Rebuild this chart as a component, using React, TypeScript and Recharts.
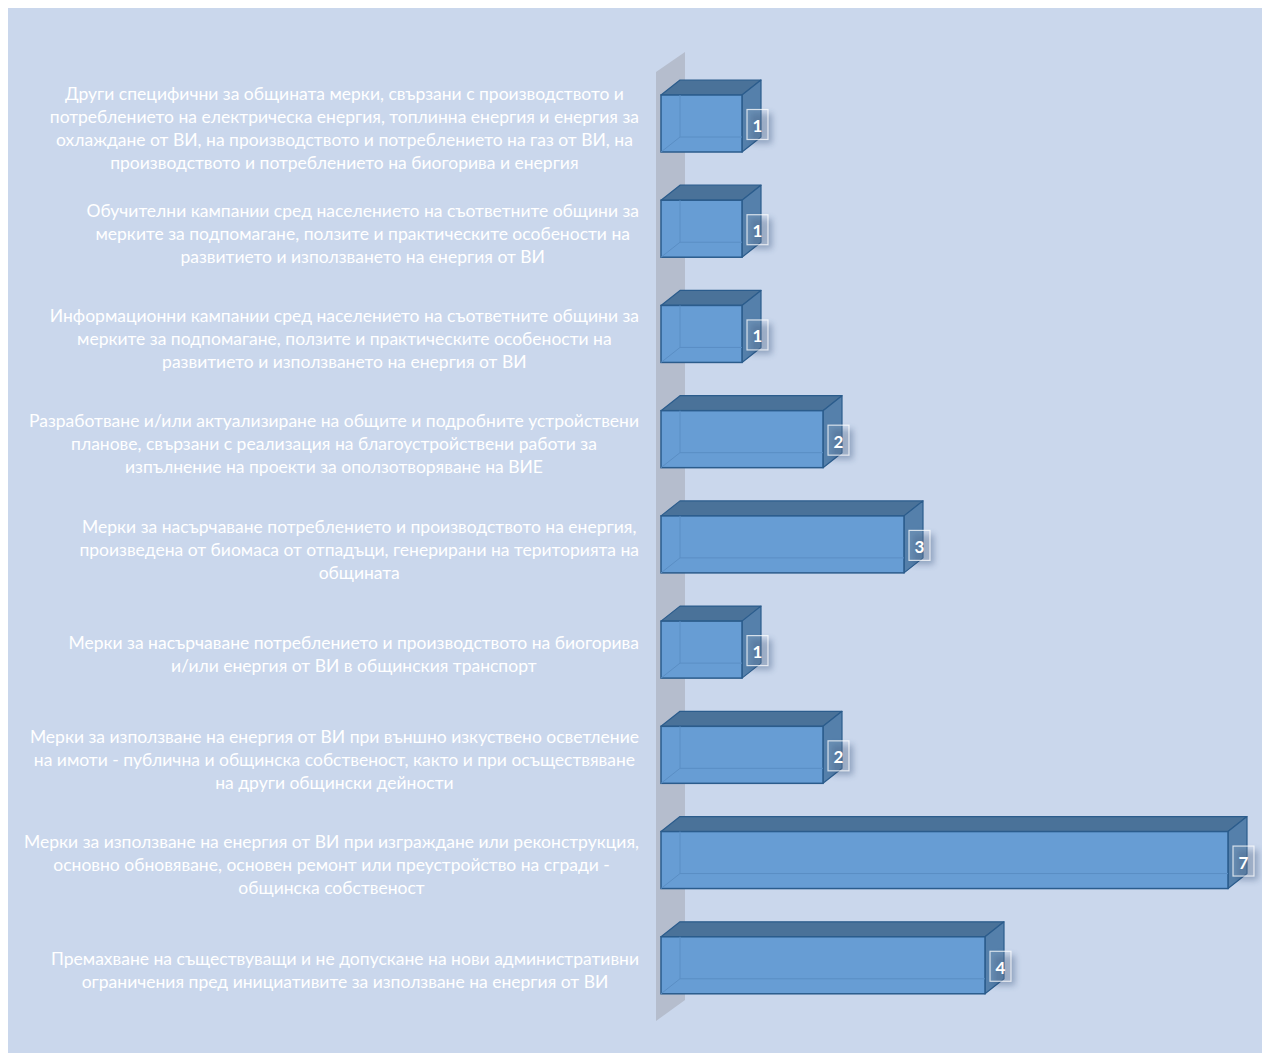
import React from 'react';
import { BarChart, Bar, XAxis, YAxis, ReferenceArea, LabelList } from 'recharts';

const categories = [
  'Други специфични мерки',
  'Обучителни кампании',
  'Информационни кампании',
  'Устройствени планове',
  'Биомаса от отпадъци',
  'Общински транспорт',
  'Външно осветление',
  'Сгради - общинска собственост',
  'Административни ограничения',
];

const categoryLines: string[][] = [
  [
    'Други специфични за общината мерки, свързани с производството и',
    'потреблението на електрическа енергия, топлинна енергия и енергия за',
    'охлаждане от ВИ, на производството и потреблението на газ от ВИ, на',
    'производството и потреблението на биогорива и енергия',
  ],
  [
    'Обучителни кампании сред населението на съответните общини за',
    'мерките за подпомагане, ползите и практическите особености на',
    'развитието и използването на енергия от ВИ',
  ],
  [
    'Информационни кампании сред населението на съответните общини за',
    'мерките за подпомагане, ползите и практическите особености на',
    'развитието и използването на енергия от ВИ',
  ],
  [
    'Разработване и/или актуализиране на общите и подробните устройствени',
    'планове, свързани с реализация на благоустройствени работи за',
    'изпълнение на проекти за оползотворяване на ВИЕ',
  ],
  [
    'Мерки за насърчаване потреблението и производството на енергия,',
    'произведена от биомаса от отпадъци, генерирани на територията на',
    'общината',
  ],
  [
    'Мерки за насърчаване потреблението и производството на биогорива',
    'и/или енергия от ВИ в общинския транспорт',
  ],
  [
    'Мерки за използване на енергия от ВИ при външно изкуствено осветление',
    'на имоти - публична и общинска собственост, както и при осъществяване',
    'на други общински дейности',
  ],
  [
    'Мерки за използване на енергия от ВИ при изграждане или реконструкция,',
    'основно обновяване, основен ремонт или преустройство на сгради -',
    'общинска собственост',
  ],
  [
    'Премахване на съществуващи и не допускане на нови административни',
    'ограничения пред инициативите за използване на енергия от ВИ',
  ],
];

const values = [1, 1, 1, 2, 3, 1, 2, 7, 4];

const data = categories.map((name, i) => ({ name, value: values[i], idx: i }));

const BG = '#cad7ec';
const FONT = 'Lato, "Open Sans", sans-serif';
const LABEL_SIZE = 17.5;
const LINE_H = 23;

let ctx: CanvasRenderingContext2D | null = null;
const measure = (s: string) => {
  if (typeof document === 'undefined') return s.length * 9;
  if (!ctx) ctx = document.createElement('canvas').getContext('2d');
  if (!ctx) return s.length * 9;
  ctx.font = `${LABEL_SIZE}px Lato`;
  return ctx.measureText(s).width;
};

const CategoryTick = (props: any) => {
  const { y, payload } = props;
  const idx = data.findIndex((d) => d.name === payload.value);
  const lines = categoryLines[idx] || [];
  const maxW = Math.max(...lines.map(measure));
  const rightEdge = 631;
  const cx = rightEdge - maxW / 2;
  const startY = y + 4 - ((lines.length - 1) * LINE_H) / 2;
  return (
    <text
      x={cx}
      y={startY}
      textAnchor="middle"
      fill="#ffffff"
      fontFamily={FONT}
      fontSize={LABEL_SIZE}
      dominantBaseline="central"
    >
      {lines.map((l, i) => (
        <tspan key={i} x={cx} y={startY + i * LINE_H} dominantBaseline="central">
          {l}
        </tspan>
      ))}
    </text>
  );
};

const DX = 19;
const DY = 15;

const Box3D = (props: any) => {
  const { x, y, width, height } = props;
  if (!width || width <= 0) return null;
  const x0 = x;
  const x1 = x + width;
  const y0 = y;
  const y1 = y + height;
  const stroke = '#2b5c8c';
  return (
    <g>
      <polygon
        points={`${x0},${y0} ${x0 + DX},${y0 - DY} ${x1 + DX},${y0 - DY} ${x1},${y0}`}
        fill="#4a7299"
        stroke={stroke}
        strokeWidth={1.2}
        strokeLinejoin="round"
      />
      <polygon
        points={`${x1},${y0} ${x1 + DX},${y0 - DY} ${x1 + DX},${y1 - DY} ${x1},${y1}`}
        fill="#5580ab"
        stroke={stroke}
        strokeWidth={1.2}
        strokeLinejoin="round"
      />
      <rect x={x0} y={y0} width={width} height={height} fill="#679dd4" stroke={stroke} strokeWidth={1.5} />
      <line x1={x0 + DX} y1={y0} x2={x0 + DX} y2={y1 - DY} stroke="#5a8ec4" strokeWidth={1} />
      <line x1={x0 + DX} y1={y1 - DY} x2={x1} y2={y1 - DY} stroke="#5a8ec4" strokeWidth={1} />
      <line x1={x0} y1={y1} x2={x0 + DX} y2={y1 - DY} stroke="#5a8ec4" strokeWidth={1} />
    </g>
  );
};

const ValueLabel = (props: any) => {
  const { x, y, width, height, value, index } = props;
  const bx = x + width + 5;
  const bw = 21;
  const bh = 30;
  const by = y + height / 2 - bh / 2 + 1;
  const fid = `lblshadow-${index}`;
  return (
    <g>
      <defs>
        <filter id={fid} x="-100%" y="-100%" width="300%" height="300%">
          <feGaussianBlur stdDeviation="3" />
        </filter>
      </defs>
      <rect x={bx + 4} y={by + 4} width={bw} height={bh} fill="#24406a" opacity={0.35} filter={`url(#${fid})`} />
      <rect x={bx} y={by} width={bw} height={bh} fill="rgba(255,255,255,0.12)" stroke="rgba(255,255,255,0.75)" strokeWidth={1.2} />
      <text
        x={bx + bw / 2}
        y={by + bh / 2 + 1}
        textAnchor="middle"
        dominantBaseline="central"
        fill="#ffffff"
        fontFamily={FONT}
        fontWeight="bold"
        fontSize={17}
      >
        {value}
      </text>
    </g>
  );
};

const Wall = (props: any) => {
  const { x, y, height } = props;
  const top = y;
  const bottom = y + height;
  const pts = `${x - 5},${top + 1} ${x + 24},${top - 19} ${x + 24},${bottom - 18} ${x - 5},${bottom + 3}`;
  return <polygon points={pts} fill="#b5bdcd" />;
};

export default function App() {
  return (
    <div style={{ width: 1260, height: 1045, background: BG }}>
      <BarChart
        width={1260}
        height={1045}
        data={data}
        layout="vertical"
        margin={{ top: 63, right: 40, bottom: 35, left: 0 }}
        barSize={57}
      >
        <XAxis type="number" domain={[0, 7]} hide />
        <YAxis
          type="category"
          dataKey="name"
          width={653}
          axisLine={false}
          tickLine={false}
          tick={<CategoryTick />}
          interval={0}
        />
        <ReferenceArea x1={0} x2={0.3} shape={<Wall />} ifOverflow="visible" fillOpacity={1} />
        <Bar dataKey="value" shape={<Box3D />} isAnimationActive={false}>
          <LabelList dataKey="value" content={<ValueLabel />} />
        </Bar>
      </BarChart>
    </div>
  );
}
